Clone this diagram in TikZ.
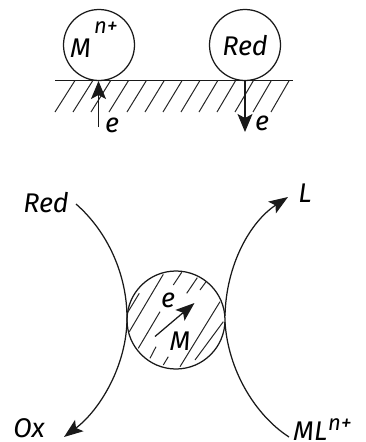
\documentclass[tikz,border=0pt]{standalone}
\usepackage{fontspec}
\setmainfont{Fira Sans}
\usetikzlibrary{arrows.meta}
\tikzset{
  ln/.style={line width=1.25pt,black!90},
  hatch/.style={line width=1pt,black!85},
  arr/.style={line width=1.1pt,black!90,-{Stealth[length=18pt,width=15pt,inset=4pt]}},
  arrb/.style={ln,-{Stealth[length=19pt,width=14pt,inset=4pt]}},
  lab/.style={inner sep=0pt,font=\fontsize{27}{27}\selectfont\itshape},
  sup/.style={inner sep=0pt,font=\fontsize{22}{22}\selectfont\itshape},
  ball/.style={circle,draw,ln,inner sep=0pt}
}
\begin{document}
\begin{tikzpicture}[x=1pt,y=-1pt]
\useasboundingbox (0,0) rectangle (365,442);
% top
\node[ball,minimum size=71pt] (m) at (99,45) {};
\node[ball,minimum size=71pt] (r) at (245,45) {};
\coordinate (sl) at (55,80.5); \coordinate (sr) at (293,80.5);
\draw[ln] (sl) -- (sr);
\foreach \k in {0,...,12}{\draw[hatch] ({55+18*\k},112) -- ({75+18*\k-0.15*\k},80.5);}
\node[lab,anchor=base west] (t1) at (70,57) {M};
\node[sup,anchor=base west] (t2) at (94,33) {n+};
\node[lab,anchor=base] (t3) at (245,55) {Red};
\coordinate (a1) at (98.5,127); \coordinate (a2) at (98.5,81);
\draw[arr] (a1) -- (a2);
\coordinate (b1) at (245,81); \coordinate (b2) at (245,132);
\draw[arr] (b1) -- (b2);
\node[lab,anchor=base] (e1) at (112,132) {e};
\node[lab,anchor=base] (e2) at (262,130) {e};
% bottom
\node[ball,minimum size=98pt] (c) at (176,320) {};
\begin{scope}
\clip (176,320) circle (49);
\draw[hatch] (127.3,313) -- (139.3,293.3);
\draw[hatch] (129.3,331.7) -- (163.3,274.3);
\draw[hatch] (138.3,348.3) -- (160,311.7);
\draw[hatch] (150,358.3) -- (156,346.7);
\draw[hatch] (163.3,365) -- (168.3,356.7);
\draw[hatch] (173.3,285) -- (181.7,272.3);
\draw[hatch] (186.7,293.3) -- (197.3,277.7);
\draw[hatch] (200,290) -- (207.3,280);
\draw[hatch] (180,366.7) -- (220,301.7);
\draw[hatch] (195,360) -- (223.3,321.7);
\end{scope}
\coordinate (redend) at (76,204); \coordinate (oxend) at (64,437);
\coordinate (lend) at (288,197); \coordinate (mlend) at (289,437);
\coordinate (rt) at (225,316); \coordinate (rb) at (225,322);
\draw[arrb] (redend) .. controls (108,232) and (127,275) .. (127,318)
  .. controls (127,365) and (100,410) .. (oxend);
\draw[arrb] (rt) .. controls (226,265) and (250,222) .. (lend);
\draw[ln] (rb) .. controls (228,370) and (255,415) .. (mlend);
\coordinate (ma) at (155,336.5); \coordinate (mb) at (194.5,303);
\draw[arrb] (ma) -- (mb);
\node[lab,anchor=base] (me) at (168,307) {e};
\node[lab,anchor=base] (mm) at (180,350) {M};
\node[lab,anchor=base] (tr) at (46,212) {Red};
\node[lab,anchor=base] (tl) at (305,202) {L};
\node[lab,anchor=base] (tox) at (29,437) {Ox};
\node[lab,anchor=base west] (tml) at (293,440) {ML};
\node[sup,anchor=base west] (tn) at (328,430) {n+};
\end{tikzpicture}
\end{document}
